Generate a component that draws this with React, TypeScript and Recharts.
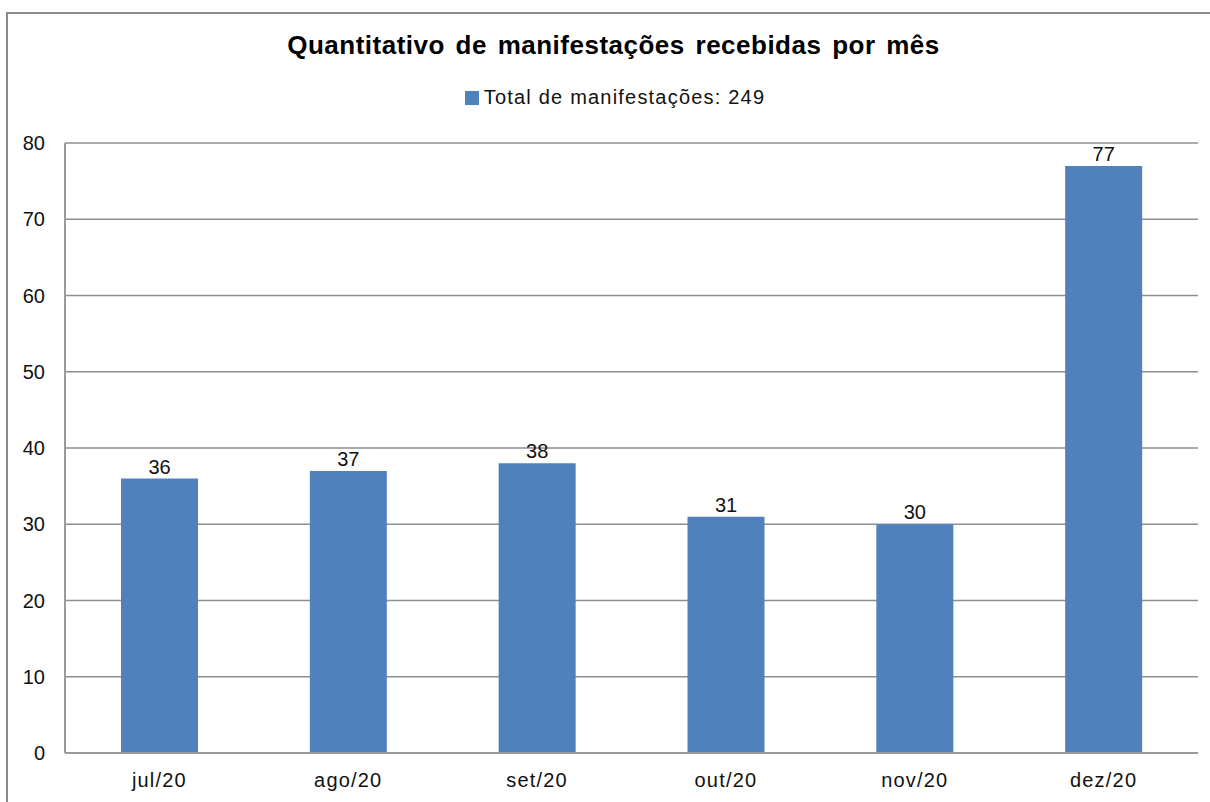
import React from "react"
import { BarChart, Bar, XAxis, YAxis, CartesianGrid, LabelList } from "recharts"

const months = ["jul/20", "ago/20", "set/20", "out/20", "nov/20", "dez/20"]
const totals = [36, 37, 38, 31, 30, 77]
const yTicks = [0, 10, 20, 30, 40, 50, 60, 70, 80]
const seriesName = "Total de manifestações: 249"
const title = "Quantitativo de manifestações recebidas por mês"

const data = months.map((m, i) => ({ name: m, total: totals[i] }))

const FONT = "Arial, 'Liberation Sans', sans-serif"
const BAR_COLOR = "#4f81bd"

export default function App() {
    return (
        <div style={{ position: "absolute", left: 0, top: 0, width: 1210, height: 802, overflow: "hidden", background: "#fff", fontFamily: FONT }}>
            {/* outer chart frame, cut off on the right and bottom */}
            <div style={{ position: "absolute", left: 6, top: 12, width: 1240, height: 820, border: "2px solid #8c8c8c", boxSizing: "border-box" }} />

            <div style={{ position: "absolute", left: 0, top: 30, width: 1227, textAlign: "center", fontSize: 26, fontWeight: "bold", color: "#000", letterSpacing: 0.5, wordSpacing: 3 }}>
                {title}
            </div>

            <div style={{ position: "absolute", left: 0, top: 86, width: 1230, display: "flex", justifyContent: "center", alignItems: "center", fontSize: 20, letterSpacing: 1.2, color: "#111" }}>
                <span style={{ display: "inline-block", width: 14, height: 14, background: BAR_COLOR, marginRight: 5 }} />
                <span>{seriesName}</span>
            </div>

            <div style={{ position: "absolute", left: 0, top: 0 }}>
                <BarChart
                    width={1210}
                    height={802}
                    data={data}
                    margin={{ top: 143, right: 12, left: 8, bottom: 9 }}
                >
                    <CartesianGrid vertical={false} stroke="#8e8e8e" strokeWidth={1.3} />
                    <XAxis
                        dataKey="name"
                        axisLine={{ stroke: "#9a9a9a", strokeWidth: 2 }}
                        tickLine={false}
                        tickMargin={14}
                        height={40}
                        tick={{ fill: "#111", fontSize: 20, letterSpacing: 1.2, fontFamily: FONT }}
                    />
                    <YAxis
                        width={57}
                        domain={[0, 80]}
                        ticks={yTicks}
                        interval={0}
                        axisLine={{ stroke: "#9a9a9a", strokeWidth: 2 }}
                        tickLine={false}
                        tickMargin={14}
                        tick={{ fill: "#111", fontSize: 20, fontFamily: FONT }}
                    />
                    <Bar dataKey="total" fill={BAR_COLOR} barSize={77} isAnimationActive={false}>
                        <LabelList dataKey="total" position="top" offset={5} fill="#111" fontSize={20} fontFamily={FONT} />
                    </Bar>
                </BarChart>
            </div>
        </div>
    )
}
